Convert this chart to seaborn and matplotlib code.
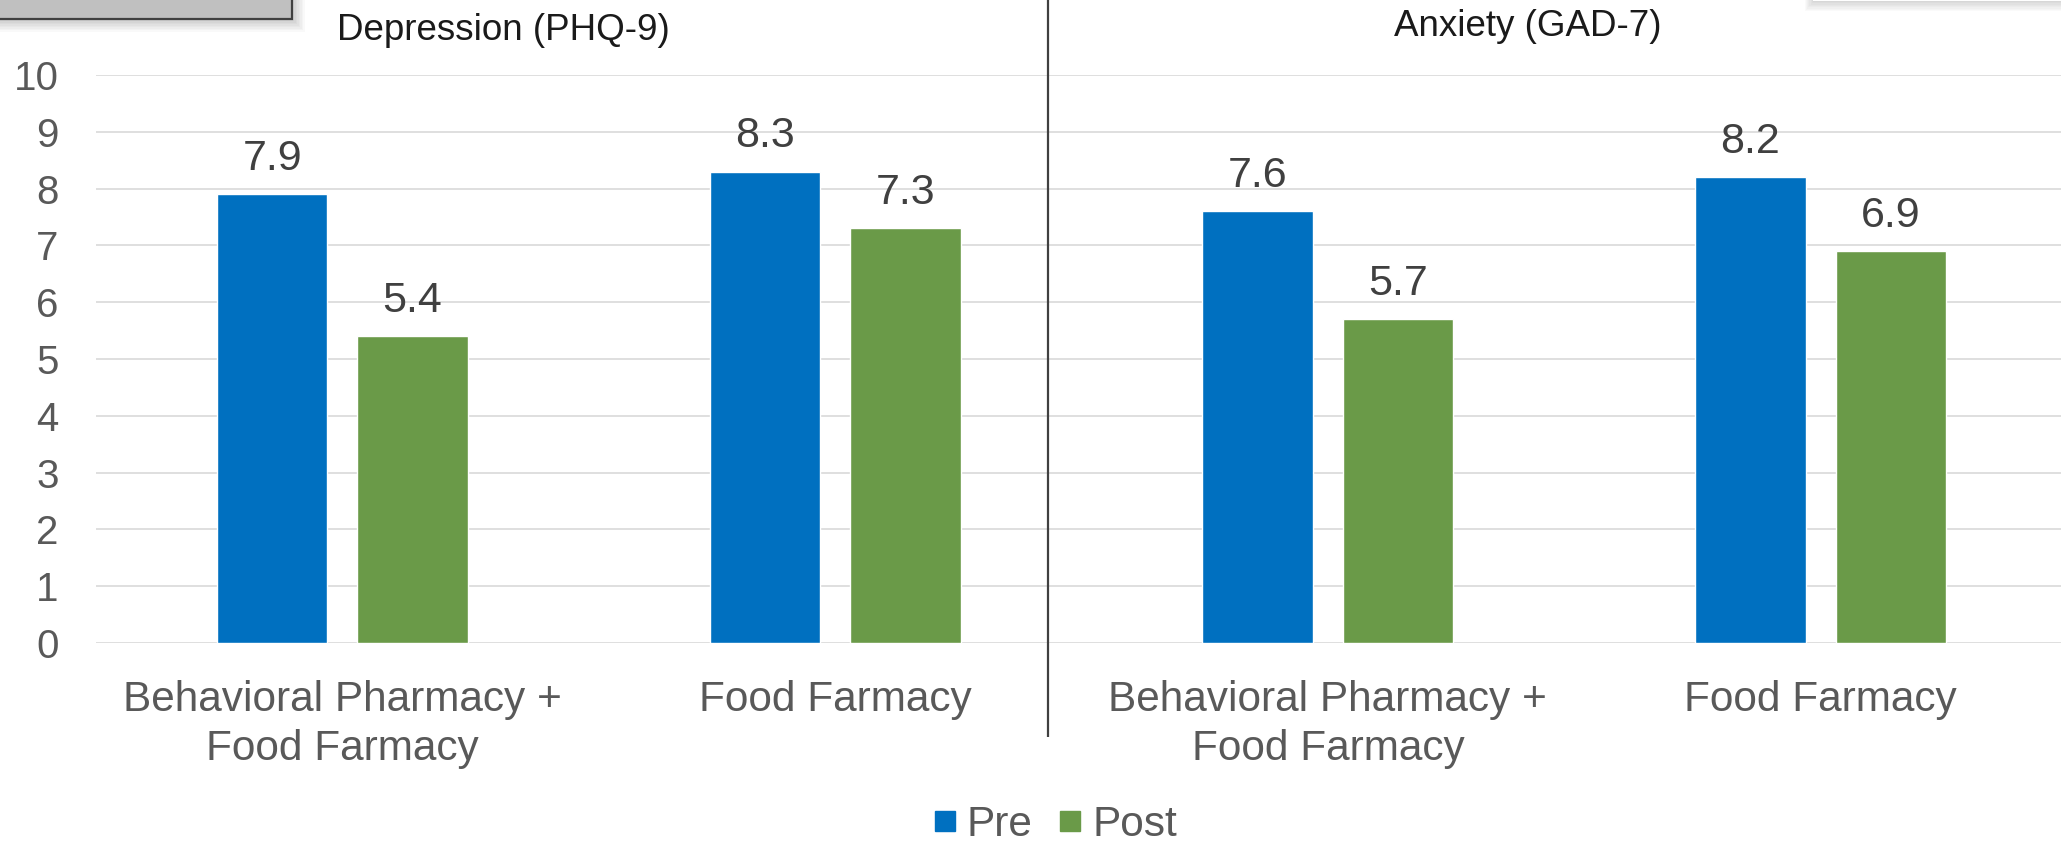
import matplotlib
matplotlib.use("Agg")
import matplotlib.pyplot as plt
from matplotlib.patches import Rectangle
from matplotlib.lines import Line2D
import seaborn as sns
import pandas as pd

# Mean scores before and after the program, by outcome measure and group
measures = ["Depression (PHQ-9)", "Anxiety (GAD-7)"]
conditions = ["Behavioral Pharmacy +\nFood Farmacy", "Food Farmacy"]
pre_scores = [7.9, 8.3, 7.6, 8.2]
post_scores = [5.4, 7.3, 5.7, 6.9]
y_ticks = [0, 1, 2, 3, 4, 5, 6, 7, 8, 9, 10]

BLUE = "#0070C0"
GREEN = "#6A9A48"
TICK_GREY = "#595959"
LABEL_GREY = "#404040"

keys, labels = [], []
for m in measures:
    for c in conditions:
        keys.append(f"{m} | {c}")
        labels.append(c)

df = pd.DataFrame({
    "key": keys * 2,
    "score": pre_scores + post_scores,
    "time": ["Pre"] * len(keys) + ["Post"] * len(keys),
})

sns.set_theme(style="white")
plt.rcParams["font.family"] = ["Liberation Sans", "DejaVu Sans"]

W, H = 2061, 842
fig = plt.figure(figsize=(W / 100, H / 100), dpi=100)
fig.patch.set_facecolor("white")

ax = fig.add_axes([96 / W, 1 - 643 / H, 1971 / W, (643 - 75) / H])
sns.barplot(data=df, x="key", y="score", hue="time", order=keys,
            hue_order=["Pre", "Post"], palette=[BLUE, GREEN], saturation=1,
            width=0.57, gap=0.214, legend=False, ax=ax, zorder=3)

ax.set_xlim(-0.5, 3.5)
ax.set_ylim(0, 10)
ax.set_yticks(y_ticks)
ax.set_yticklabels([str(v) for v in y_ticks])
ax.set_xticks(range(len(keys)))
ax.set_xticklabels(labels, linespacing=1.27)
ax.set_xlabel("")
ax.set_ylabel("")
for s in ax.spines.values():
    s.set_visible(False)
ax.grid(axis="y", color="#D9D9D9", linewidth=1.2, zorder=0)
ax.set_axisbelow(True)
ax.tick_params(axis="y", length=0, pad=27, labelsize=29, labelcolor=TICK_GREY)
ax.tick_params(axis="x", length=0, pad=27, labelsize=30.5, labelcolor=TICK_GREY)
ax.set_facecolor("white")

for cont in ax.containers:
    ax.bar_label(cont, fmt="%.1f", padding=11, fontsize=31, color=LABEL_GREY)

# Overlay in pixel coordinates for panel titles, divider and decorations
ov = fig.add_axes([0, 0, 1, 1], facecolor="none")
ov.set_xlim(0, W)
ov.set_ylim(H, 0)
ov.axis("off")

ov.text(503, 30, measures[0], ha="center", va="center", fontsize=26.5, color="#1A1A1A")
ov.text(1528, 26, measures[1], ha="center", va="center", fontsize=26.5, color="#1A1A1A")

ov.plot([1048, 1048], [0, 737], color="#404040", linewidth=1.6, solid_capstyle="butt")

# grey box at top-left with soft shadow
for i in range(8):
    ov.add_patch(Rectangle((0, 0), 294 + i * 1.5, 21 + i * 1.5,
                           facecolor="black", edgecolor="none", alpha=0.025))
ov.add_patch(Rectangle((-5, -5), 297, 24, facecolor="#C0C0C0",
                       edgecolor="#404040", linewidth=1.6))

# white box at top-right with soft shadow
for i in range(8):
    ov.add_patch(Rectangle((1813 - i * 1.2, 0), 300, 2 + i * 1.3,
                           facecolor="black", edgecolor="none", alpha=0.02))
ov.add_patch(Rectangle((1813, -5), 300, 6, facecolor="white", edgecolor="none"))

handles = [Line2D([], [], linestyle="none", marker="s", markersize=14,
                  markerfacecolor=c, markeredgecolor=c) for c in (BLUE, GREEN)]
fig.legend(handles, ["Pre", "Post"], loc="center", bbox_to_anchor=(1055 / W, 1 - 825 / H),
           ncol=2, frameon=False, fontsize=30.5, handlelength=0.55, handletextpad=0.25,
           columnspacing=0.6, borderpad=0, labelcolor=TICK_GREY)

fig.savefig("out.png", dpi=100, facecolor="white")
